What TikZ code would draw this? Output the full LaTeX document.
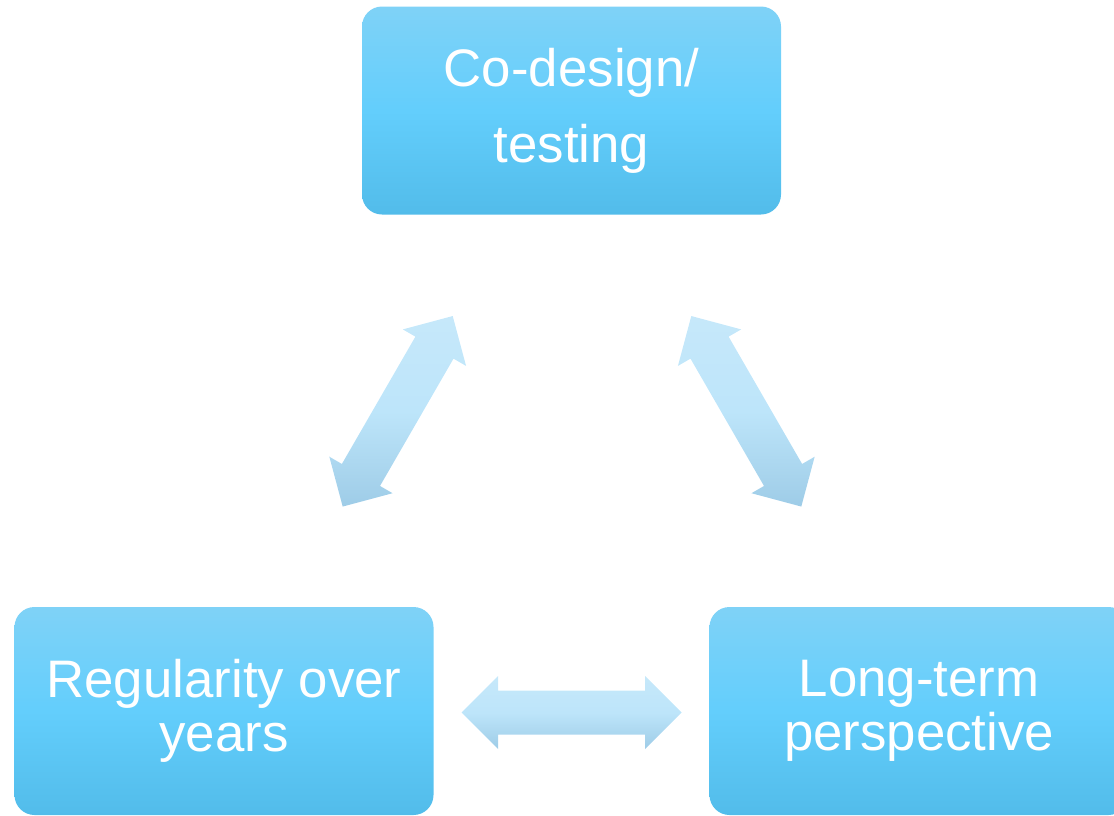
\documentclass[tikz,border=0pt]{standalone}
\usepackage{fontspec}
\setmainfont{Liberation Sans}
\definecolor{boxtop}{HTML}{7FD2F7}
\definecolor{boxmid}{HTML}{63CEFC}
\definecolor{boxbot}{HTML}{52BCEA}
\definecolor{arrtop}{HTML}{C6E8FA}
\definecolor{arrmid}{HTML}{BDE5FA}
\definecolor{arrbot}{HTML}{9ECCE7}
\newcommand\myArrowPath{(-110,0) -- (-73.5,36.5) -- (-73.5,22) -- (73.5,22) -- (73.5,36.5) -- (110,0) -- (73.5,-36.5) -- (73.5,-22) -- (-73.5,-22) -- (-73.5,-36.5) -- cycle}
\tikzset{
  x=0.75pt, y=-0.75pt,
  boxnode/.style={rectangle, rounded corners=15pt, minimum width=314.25pt, minimum height=156pt,
    inner sep=0pt, outer sep=0pt, top color=boxtop, bottom color=boxbot, middle color=boxmid,
    text=white, align=center},
  toptext/.style={font=\fontsize{39.6}{57}\selectfont},
  bottext/.style={font=\fontsize{39.6}{40.5}\selectfont},
  blockarrow/.style={top color=arrtop, bottom color=arrbot, middle color=arrmid, draw=none}
}
\begin{document}
\begin{tikzpicture}
\useasboundingbox (0,0) rectangle (1114,815);
\clip (0,0) rectangle (1114,815);
\node[boxnode, toptext] (codesign) at (571.5,110.5) {Co-design/\\testing};
\node[boxnode, bottext] (regular) at (224,711) {Regularity over\\years};
\node[boxnode, bottext] (longterm) at (919,711) {Long-term\\perspective};
\coordinate (aL) at (397.7,411.3);
\coordinate (aR) at (746.3,411.3);
\coordinate (aB) at (571.7,712.5);
\path[blockarrow, shift={(aL)}, rotate=60] \myArrowPath;
\path[blockarrow, shift={(aR)}, rotate=-60] \myArrowPath;
\path[blockarrow, shift={(aB)}] \myArrowPath;
\end{tikzpicture}
\end{document}
